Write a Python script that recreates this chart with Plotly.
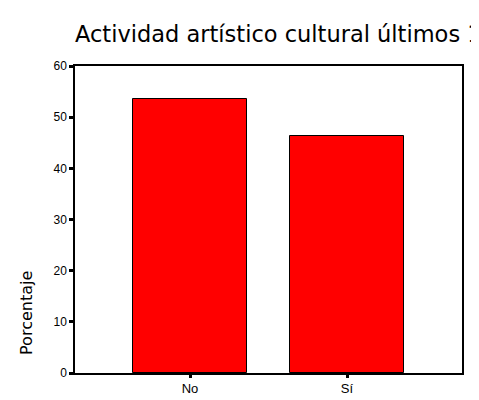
import plotly.graph_objects as go

categories = ["No", "Sí"]
values = [53.6, 46.4]
y_ticks = [0, 10, 20, 30, 40, 50, 60]
title_text = "Actividad artístico cultural últimos 12 meses"
y_title = "Porcentaje"

fig = go.Figure(
    go.Bar(
        x=categories,
        y=values,
        width=0.72,
        marker=dict(color="#ff0000", line=dict(color="#000000", width=1)),
        hoverinfo="x+y",
    )
)

fig.update_layout(
    width=479,
    height=400,
    margin=dict(l=67, r=25, t=58, b=21, pad=0),
    paper_bgcolor="white",
    plot_bgcolor="white",
    showlegend=False,
    font=dict(family="Arial, Liberation Sans, sans-serif", color="#000000"),
    title=dict(
        text=title_text,
        xref="paper",
        x=0,
        xanchor="left",
        yref="container",
        y=1 - 26 / 400,
        yanchor="middle",
        font=dict(family="DejaVu Sans, Arial, sans-serif", size=22.5, color="#000000"),
    ),
    bargap=0,
)

fig.update_xaxes(
    type="category",
    range=[-0.7325, 1.7325],
    showline=True,
    linecolor="#000000",
    linewidth=1.5,
    mirror=True,
    ticks="outside",
    ticklen=3,
    tickwidth=2.5,
    tickcolor="#000000",
    tickfont=dict(size=13),
    showgrid=False,
    zeroline=False,
)

fig.update_yaxes(
    range=[0, 60],
    tickvals=y_ticks,
    showline=True,
    linecolor="#000000",
    linewidth=1.5,
    mirror=True,
    ticks="outside",
    ticklen=4,
    tickwidth=2.5,
    tickcolor="#000000",
    tickfont=dict(size=12),
    showgrid=False,
    zeroline=False,
)

fig.add_annotation(
    text=y_title,
    xref="paper",
    yref="paper",
    x=-48.5 / 387,
    y=63.5 / 322,
    xanchor="center",
    yanchor="middle",
    textangle=-90,
    showarrow=False,
    font=dict(family="DejaVu Sans, Arial, sans-serif", size=16, color="#000000"),
)

fig.write_html("out.html")
